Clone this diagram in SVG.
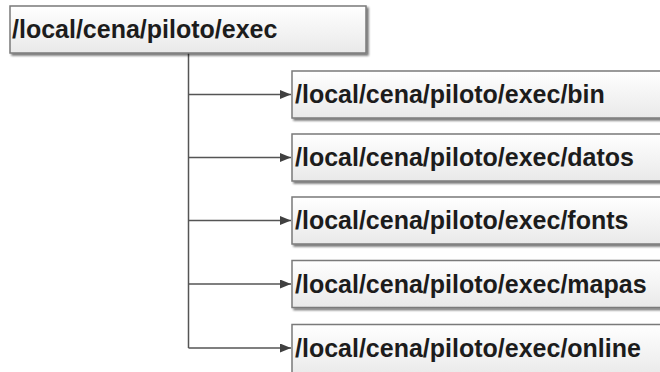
<svg xmlns="http://www.w3.org/2000/svg" width="660" height="372" viewBox="0 0 660 372">
  <defs>
    <linearGradient id="boxFill" x1="0" y1="0" x2="0" y2="1">
      <stop offset="0" stop-color="#ffffff"/>
      <stop offset="1" stop-color="#e9e9e9"/>
    </linearGradient>
    <filter id="shadow" x="-5%" y="-10%" width="115%" height="130%">
      <feGaussianBlur in="SourceAlpha" stdDeviation="1"/>
      <feOffset dx="2" dy="2" result="off"/>
      <feComponentTransfer><feFuncA type="linear" slope="0.55"/></feComponentTransfer>
      <feMerge><feMergeNode/><feMergeNode in="SourceGraphic"/></feMerge>
    </filter>
    <marker id="arrow" viewBox="0 0 10 10" refX="10" refY="5" markerWidth="11" markerHeight="9" markerUnits="userSpaceOnUse" orient="auto" preserveAspectRatio="none">
      <path d="M0,0 L10,5 L0,10 z" fill="#404040"/>
    </marker>
  </defs>
  <style>
    .box { fill: url(#boxFill); stroke: #7a7a7a; stroke-width: 1.5; filter: url(#shadow); }
    .label { font-family: "Liberation Sans", Arial, sans-serif; font-weight: bold; font-size: 25px; fill: #1c1c1c; }
    .link { fill: none; stroke: #555555; stroke-width: 1.5; }
    .arrow { marker-end: url(#arrow); }
  </style>
  <rect width="660" height="372" fill="#ffffff"/>

  <g id="connectors">
    <line class="link" x1="188.5" y1="53" x2="188.5" y2="348"/>
    <line class="link arrow" x1="188.5" y1="94.5" x2="291" y2="94.5"/>
    <line class="link arrow" x1="188.5" y1="157.5" x2="291" y2="157.5"/>
    <line class="link arrow" x1="188.5" y1="220.5" x2="291" y2="220.5"/>
    <line class="link arrow" x1="188.5" y1="284" x2="291" y2="284"/>
    <line class="link arrow" x1="188.5" y1="348" x2="291" y2="348"/>
  </g>

  <g id="root">
    <rect class="box" x="10" y="6" width="356" height="47"/>
    <text class="label" x="12" y="38">/local/cena/piloto/exec</text>
  </g>
  <g id="bin">
    <rect class="box" x="292" y="71" width="372" height="47"/>
    <text class="label" x="295" y="103">/local/cena/piloto/exec/bin</text>
  </g>
  <g id="datos">
    <rect class="box" x="292" y="134" width="372" height="47"/>
    <text class="label" x="295" y="166">/local/cena/piloto/exec/datos</text>
  </g>
  <g id="fonts">
    <rect class="box" x="292" y="197" width="372" height="47"/>
    <text class="label" x="295" y="229">/local/cena/piloto/exec/fonts</text>
  </g>
  <g id="mapas">
    <rect class="box" x="292" y="260.5" width="372" height="47"/>
    <text class="label" x="295" y="292.5">/local/cena/piloto/exec/mapas</text>
  </g>
  <g id="online">
    <rect class="box" x="292" y="324.5" width="372" height="52"/>
    <text class="label" x="295" y="356.5">/local/cena/piloto/exec/online</text>
  </g>
</svg>
